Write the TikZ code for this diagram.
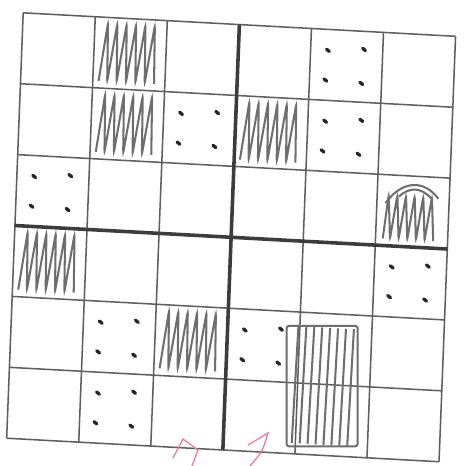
\documentclass[tikz,border=0pt]{standalone}
\usepackage{xcolor}
\usepackage{tikz}
\definecolor{pencil}{HTML}{5E5E5E}
\definecolor{pencildark}{HTML}{3C3C3C}
\definecolor{graphite}{HTML}{6E6E6E}
\definecolor{dotink}{HTML}{262626}
\definecolor{redpen}{HTML}{EE7C98}

\begin{document}
\begin{tikzpicture}[x=1cm,y=1cm,
  gridline/.style={pencil,line width=0.6pt},
  axisline/.style={pencildark,line width=1.4pt},
  hatch/.style={graphite,line width=0.8pt,rounded corners=1pt},
  dot/.style={dotink,line width=1.3pt,line cap=round},
  redmark/.style={redpen,line width=0.5pt}]
  \fill[white] (0,0) rectangle (6.428,6.428);
  \useasboundingbox (0,0) rectangle (6.428,6.428);
  \begin{scope}[shift={(0.092,0.383)},x={(0.994cm,-0.054cm)},y={(0.038cm,0.978cm)}]
    \foreach \i in {0,...,6} {
      \draw[gridline] (\i,0) -- (\i,6);
      \draw[gridline] (0,\i) -- (6,\i);
    }
    \draw[axisline] (3,0) -- (3,6);
    \draw[axisline] (0,3) -- (6,3);
    \foreach \cx/\cy in {1/5,1/4,3/4,0/2,2/1} {
      \draw[hatch] (\cx+0.08,\cy+0.1) \foreach \k in {0,...,5} { -- (\cx+0.18+\k*0.13,\cy+0.92) -- (\cx+0.2+\k*0.13,\cy+0.1) };
    }
    \draw[hatch] (5.1,3.1) \foreach \k in {0,...,5} { -- (5.16+\k*0.12,3.72) -- (5.2+\k*0.12,3.1) };
    \draw[hatch] (5.12,3.6) .. controls (5.35,3.95) and (5.65,3.95) .. (5.85,3.7);
    \draw[hatch] (5.3,3.7) .. controls (5.45,3.85) and (5.6,3.85) .. (5.75,3.7);
    \draw[hatch] (3.88,0.1) rectangle (4.8,1.85);
    \foreach \k in {0,...,7}
      \draw[hatch] (3.95+\k*0.11,0.15) -- (3.98+\k*0.11,1.8);
    \foreach \cx/\cy in {4/5,2/4,4/4,0/3,5/2,1/1,3/1,1/0} {
      \foreach \dx/\dy in {0.22/0.72,0.72/0.76,0.2/0.3,0.7/0.28}
        \draw[dot] (\cx+\dx,\cy+\dy) -- ++(0.04,-0.03);
    }
  \end{scope}
  \draw[redmark] (2.386,0.110) -- (2.524,0.372) -- (2.731,0.221) -- (2.648,0);
  \draw[redmark] (3.421,0.290) -- (3.697,0.455) .. controls (3.62,0.2) .. (3.448,0);
\end{tikzpicture}
\end{document}
